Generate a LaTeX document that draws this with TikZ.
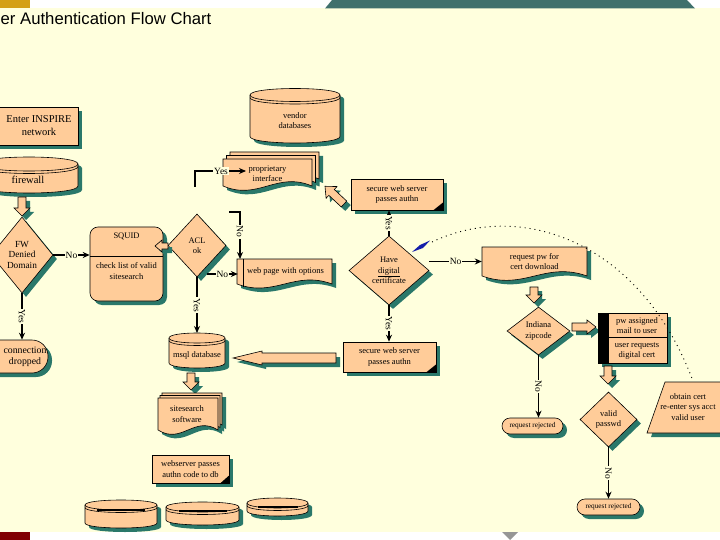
\documentclass[tikz,border=0pt]{standalone}
\usepackage{fontspec}
\setmainfont{Liberation Serif}
\newfontfamily\titlefont{Liberation Sans}
\usetikzlibrary{shapes.geometric,shadows,arrows.meta,calc}
\definecolor{bgc}{RGB}{255,255,221}
\definecolor{peach}{RGB}{255,204,153}
\definecolor{shd}{RGB}{42,120,106}
\definecolor{banner}{RGB}{63,112,108}
\definecolor{gold}{RGB}{212,160,23}
\definecolor{darkred}{RGB}{128,0,0}
\definecolor{penblue}{RGB}{20,30,170}
\definecolor{tri}{RGB}{150,150,150}
\newcommand\fmid{\fontsize{8.5}{10.5}\selectfont}
\newcommand\fsmall{\fontsize{7.3}{9}\selectfont}
\newcommand\fbig{\fontsize{10.5}{13}\selectfont}
\newcommand\fconn{\fontsize{9.8}{11}\selectfont}
\newcommand\fdia{\fontsize{9.3}{10.5}\selectfont}
\newcommand\flab{\fontsize{9.5}{10}\selectfont}
\tikzset{
  pbox/.style={draw=black, fill=peach, line width=0.6pt,
    drop shadow={shadow xshift=4pt, shadow yshift=-4pt, fill=shd, opacity=1}},
  txt/.style={font=\fmid, align=center, inner sep=0pt},
  conn/.style={draw=black, line width=1.4pt, -{Stealth[length=7pt,width=6pt]}},
  lbl/.style={font=\flab, fill=bgc, inner sep=1pt},
}
% disk: cx, cy (top ellipse centre), rx, ry, body height
\newcommand\diskshape[5]{%
  \pgfmathsetmacro\dkL{#1-#3}\pgfmathsetmacro\dkR{#1+#3}%
  \pgfmathsetmacro\dkB{#2+#5}\pgfmathsetmacro\dkU{#2-4/3*#4}%
  \pgfmathsetmacro\dkD{#2+4/3*#4}\pgfmathsetmacro\dkC{#2+#5+4/3*#4}%
  \pgfmathsetmacro\dkE{#2+2.5+4/3*#4}\pgfmathsetmacro\dkF{#2+2.5}%
  \path[pbox] (\dkL,#2) .. controls (\dkL,\dkU) and (\dkR,\dkU) .. (\dkR,#2) -- (\dkR,\dkB) .. controls (\dkR,\dkC) and (\dkL,\dkC) .. (\dkL,\dkB) -- cycle;
  \draw[line width=0.6pt] (\dkL,#2) .. controls (\dkL,\dkD) and (\dkR,\dkD) .. (\dkR,#2);
  \draw[line width=0.6pt] (\dkL,\dkF) .. controls (\dkL,\dkE) and (\dkR,\dkE) .. (\dkR,\dkF);
}
% thick middle line of a flat disk: cx, y, half length
\newcommand\diskbar[3]{\draw[line width=1.6pt] ({#1-#3},#2) -- ({#1+#3},#2);}
% document shape: options, l, t, r, b, A
\newcommand\docshape[6]{%
  \path[#1] (#2,#3) -- (#4,#3) -- (#4,#5) .. controls ({#4-0.4*(#4-#2)},{#5-#6}) and ({#2+0.4*(#4-#2)},{#5+#6}) .. (#2,#5) -- cycle;}
% block arrow: x, y (tail), angle, length, shaft half, head half, head length
\newcommand\blockarrow[7]{%
  \begin{scope}[shift={(4,4)}]\begin{scope}[shift={(#1,#2)},rotate=#3]
    \fill[shd] (0,-#5) -- ({#4-#7},-#5) -- ({#4-#7},-#6) -- (#4,0) -- ({#4-#7},#6) -- ({#4-#7},#5) -- (0,#5) -- cycle;
  \end{scope}\end{scope}
  \begin{scope}[shift={(#1,#2)},rotate=#3]
    \filldraw[fill=peach, draw=black, line width=0.6pt] (0,-#5) -- ({#4-#7},-#5) -- ({#4-#7},-#6) -- (#4,0) -- ({#4-#7},#6) -- ({#4-#7},#5) -- (0,#5) -- cycle;
  \end{scope}}
\begin{document}
\begin{tikzpicture}[x=1pt,y=-1pt]
\path[use as bounding box] (0,0) rectangle (720,540);
\clip (0,0) rectangle (720,540);
% background and frame
\fill[white] (0,0) rectangle (720,540);
\fill[bgc] (0,8.5) rectangle (720,532);
\fill[gold] (0,0) rectangle (30,8.5);
\fill[banner] (325,8.5) -- (332,0) -- (687,0) -- (695,8.5) -- cycle;
\fill[darkred] (0,532) rectangle (30,540);
\fill[tri] (502,532) -- (518,532) -- (510,540) -- cycle;
\node[anchor=base west, inner sep=0, font=\titlefont\fontsize{16.7}{20}\selectfont] (title) at (0.5,25) {er Authentication Flow Chart};

% ---------- left column ----------
\node[pbox, minimum width=100, minimum height=38] (inspire) at (28,126) {};
\node[font=\fbig, align=center, inner sep=0] (inspiret) at (39,126) {Enter INSPIRE\\network};
\diskshape{29}{164}{49}{7}{22}
\node[font=\fbig, inner sep=0] (firewall) at (28,180) {firewall};
\blockarrow{22}{197}{-90}{19}{4}{8}{8}
\node[pbox, diamond, minimum width=62, minimum height=76, inner sep=0, font=\fdia, align=center] (fw) at (22,255) {FW\\Denied\\Domain};
\node[pbox, rounded corners=16, minimum width=68, minimum height=33] (conn) at (14,356.5) {};
\node[font=\fconn, align=center, inner sep=0] (connt) at (25,357) {connection\\dropped};

% ---------- SQUID / ACL ----------
\node[pbox, rounded corners=8, minimum width=73, minimum height=74] (squid) at (126.5,264) {};
\draw[line width=0.6pt] (90,256) -- (163,256);
\node[txt] (squidt) at (126.5,236) {SQUID};
\node[txt] (squidb) at (126.5,271) {check list of valid\\sitesearch};
\node[pbox, diamond, minimum width=58, minimum height=63, inner sep=0, font=\fmid, align=center] (acl) at (197,245.5) {ACL\\ok};
\blockarrow{168}{246}{180}{13}{3}{6}{7}

% ---------- web page ----------
\docshape{pbox}{237}{259}{332}{284}{14}
\draw[line width=0.6pt] (243,259) -- (243,287);
\node[txt, minimum width=95, minimum height=25] (web) at (285.5,271.5) {web page with options};

% ---------- vendor / proprietary ----------
\diskshape{295}{95}{45}{6.5}{41.5}
\node[txt] (vendor) at (295,120.5) {vendor\\databases};
\foreach \dd in {7,3.5,0} {\docshape{fill=shd, shift={(\dd+4,-\dd+4)}}{223}{159}{312}{186}{15}}
\foreach \dd in {7,3.5,0} {\docshape{fill=peach, draw=black, line width=0.6pt, shift={(\dd,-\dd)}}{223}{159}{312}{186}{15}}
\node[txt] (prop) at (267.5,173.5) {proprietary\\interface};

% ---------- secure web server (top) and certificate ----------
\node[pbox, minimum width=92, minimum height=31, txt] (sectop) at (397,194.5) {secure web server\\passes authn};
\fill (sectop.south east) -- ++(-10,0) -- ++(10,-8) -- cycle;
\blockarrow{344}{204}{137}{26}{4}{8}{9}
\node[pbox, diamond, minimum width=80, minimum height=69, inner sep=0, font=\fmid, align=center] (have) at (389,270.5) {Have\\\underline{digital}\\certificate};
\fill[penblue] (412,252) -- (420,245) -- (430,240.5) -- (423,248) -- cycle;

% ---------- right part ----------
\docshape{pbox}{482}{247}{587}{276}{15}
\node[txt, minimum width=105, minimum height=29] (req) at (534.5,261.5) {request pw for\\cert download};
\blockarrow{534}{287}{-90}{16}{4}{8}{8}
\node[pbox, diamond, minimum width=63, minimum height=48, inner sep=0, font=\fmid, align=center] (ind) at (538.5,331) {Indiana\\zipcode};
\blockarrow{572}{327}{0}{24}{4}{7}{9}
\node[pbox, minimum width=69, minimum height=50] (pw) at (632.5,338) {};
\fill (598,313) rectangle (609,363);
\draw[line width=0.6pt] (609,337.5) -- (667,337.5);
\node[txt] (pwt) at (637,325.5) {pw assigned\\mail to user};
\node[txt] (pwb) at (637,351) {user requests\\digital cert};
\blockarrow{608}{366}{-90}{18}{4}{8}{8}
\node[pbox, diamond, minimum width=57, minimum height=55, inner sep=0, font=\fmid, align=center] (valid) at (608.5,419.5) {valid\\passwd};
\node[pbox, rounded corners=8, minimum width=61, minimum height=16, font=\fsmall, inner sep=0] (rej1) at (532.5,426) {request rejected};
\node[pbox, rounded corners=8, minimum width=63, minimum height=16, font=\fsmall, inner sep=0] (rej2) at (608.5,507) {request rejected};
\path[pbox] (665,382) -- (765,382) -- (747,433) -- (647,433) -- cycle;
\node[txt] (obtain) at (688,407) {obtain cert\\re-enter sys acct\\valid user};

% ---------- lower middle ----------
\node[pbox, minimum width=93, minimum height=30, txt] (secbot) at (389.5,357) {secure web server\\passes authn};
\fill (secbot.south east) -- ++(-10,0) -- ++(10,-8) -- cycle;
\blockarrow{336}{358}{180}{103}{5}{7}{29}
\diskshape{197}{338}{28}{5}{25}
\node[txt] (msql) at (197,355) {msql database};
\coordinate (msqltop) at (197,333);
\blockarrow{191}{373}{-90}{17}{4}{8}{8}
\foreach \dd/\ee in {4/5,2/2.5,0/0} {\docshape{fill=shd, shift={(\dd+4,-\ee+4)}}{158}{398}{218}{430}{15}}
\foreach \dd/\ee in {4/5,2/2.5,0/0} {\docshape{fill=peach, draw=black, line width=0.6pt, shift={(\dd,-\ee)}}{158}{398}{218}{430}{15}}
\node[txt] (site) at (187,414) {sitesearch\\software};
\node[pbox, minimum width=77, minimum height=28, txt] (wserver) at (190.5,469) {webserver passes\\authn code to db};
\fill (wserver.south east) -- ++(-9,0) -- ++(9,-8) -- cycle;
\diskshape{121}{505}{36}{5}{18}
\diskbar{121}{510}{24}
\diskshape{202.5}{507}{36.5}{5}{13}
\diskbar{202.5}{511}{24}
\diskshape{277.5}{503}{30.5}{5}{8}
\diskbar{277.5}{507}{20}

% ---------- connectors ----------
\draw[conn] (fw.south) -- node[lbl, rotate=-90]{Yes} (fw.south |- conn.north);
\draw[conn] (fw.east) -- node[lbl]{No} (fw.east -| squid.west);
\draw[conn] (acl.south) -- node[lbl, rotate=-90]{Yes} (msqltop);
\coordinate (aclno) at (207,274);
\draw[conn] (aclno) -- node[lbl]{No} (aclno -| web.west);
\coordinate (nostub) at (229,212);
\coordinate (nostubend) at (240,259);
\draw[conn] (nostub) -| node[pos=0.71, lbl, rotate=-90]{No} (nostubend);
\coordinate (yesstub) at (195,187);
\coordinate (yesend) at (246,171);
\draw[conn] (yesstub) |- node[pos=0.755, lbl]{Yes} (yesend);
\draw[conn] (have.north) -- node[lbl, rotate=-90]{Yes} (have.north |- sectop.south);
\draw[conn] (have.south) -- node[lbl, rotate=-90]{Yes} (have.south |- secbot.north);
\draw[conn] (have.east |- req.west) -- node[lbl]{No} (req.west);
\draw[conn] (ind.south) -- node[lbl, rotate=-90]{No} (ind.south |- rej1.north);
\draw[conn] (valid.south) -- node[lbl, rotate=-90]{No} (valid.south |- rej2.north);
\coordinate (dotS) at (432,242);
\coordinate (dotE) at (693,381);
\draw[line width=0.9pt, dash pattern=on 1pt off 4pt] (dotS) .. controls (520,200) and (640,240) .. (dotE);
\end{tikzpicture}
\end{document}
